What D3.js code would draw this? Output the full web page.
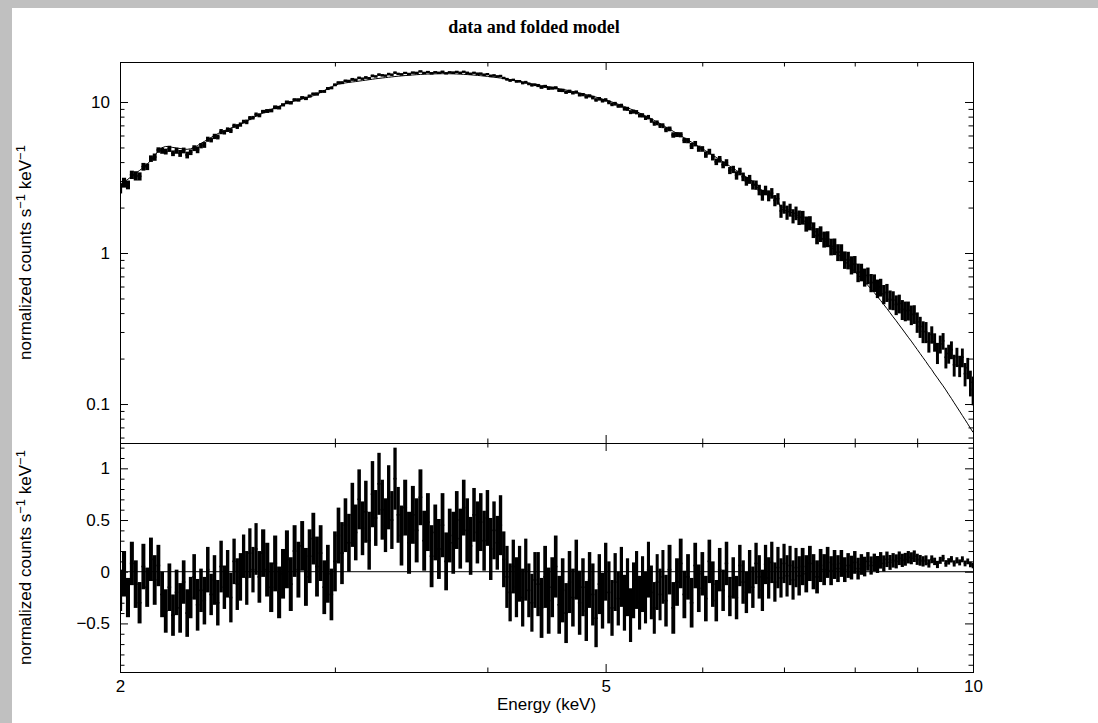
<!DOCTYPE html>
<html><head><meta charset="utf-8">
<script src="https://cdn.jsdelivr.net/npm/d3@7"></script>
<style>
html,body{margin:0;padding:0;background:#fff;}
svg{display:block;}
</style></head><body>
<svg id="chart" width="1098" height="723"></svg>
<script>
// ---------------- DATA ----------------
const energies = [
 2.000,2.015,2.030,2.045,2.060,2.075,2.090,2.105,2.120,2.135,2.150,2.165,2.180,2.195,2.210,2.225,2.240,2.255,2.270,2.285,
 2.300,2.315,2.330,2.345,2.360,2.375,2.390,2.405,2.420,2.435,2.450,2.465,2.480,2.495,2.510,2.525,2.540,2.555,2.570,2.585,
 2.60,2.62,2.64,2.66,2.68,2.70,2.72,2.74,2.76,2.78,2.80,2.82,2.84,2.86,2.88,2.90,2.92,2.94,2.96,2.98,
 3.00,3.02,3.04,3.06,3.08,3.10,3.12,3.14,3.16,3.18,3.20,3.22,3.24,3.26,3.28,3.30,3.32,3.34,3.36,3.38,
 3.400,3.425,3.450,3.475,3.500,3.525,3.550,3.575,3.600,3.625,3.650,3.675,3.700,3.725,3.750,3.775,3.800,3.825,3.850,3.875,
 3.900,3.925,3.950,3.975,4.000,4.025,4.050,4.075,4.100,4.125,4.150,4.175,4.200,4.225,4.250,4.275,4.300,4.325,4.350,4.375,
 4.40,4.43,4.46,4.49,4.52,4.55,4.58,4.61,4.64,4.67,4.70,4.73,4.76,4.79,4.82,4.85,4.88,4.91,4.94,4.97,
 5.00,5.03,5.06,5.09,5.12,5.15,5.18,5.21,5.24,5.27,5.30,5.33,5.36,5.39,5.42,5.45,5.48,5.51,5.54,5.57,
 5.60,5.64,5.68,5.72,5.76,5.80,5.84,5.88,5.92,5.96,6.00,6.04,6.08,6.12,6.16,6.20,6.24,6.28,6.32,6.36,
 6.40,6.44,6.48,6.52,6.56,6.60,6.64,6.68,6.72,6.76,6.80,6.84,6.88,6.92,6.96,7.00,7.04,7.08,7.12,7.16,
 7.20,7.25,7.30,7.35,7.40,7.45,7.50,7.55,7.60,7.65,7.70,7.75,7.80,7.85,7.90,7.95,8.00,8.05,8.10,8.15,
 8.20,8.25,8.30,8.35,8.40,8.45,8.50,8.55,8.60,8.65,8.70,8.75,8.80,8.85,8.90,8.95,9.00,9.05,9.10,9.15,
 9.20,9.25,9.30,9.35,9.40,9.45,9.50,9.55,9.60,9.65,9.70,9.75,9.80,9.85,9.90,9.95,10.00
];
// folded model, normalized counts s^-1 keV^-1
const modelValues = [
 2.86,2.95,3.08,3.22,3.37,3.52,3.68,3.88,4.10,4.40,4.75,4.98,5.08,5.05,5.00,4.96,4.92,4.88,4.86,4.90,
 5.00,5.15,5.32,5.48,5.65,5.82,6.00,6.17,6.32,6.45,6.58,6.72,6.86,7.00,7.14,7.27,7.45,7.65,7.85,8.05,
 8.22,8.46,8.70,8.93,9.15,9.37,9.60,9.83,10.00,10.15,10.30,10.45,10.62,10.80,11.00,11.25,11.55,11.90,12.30,12.60,
 12.90,13.10,13.25,13.38,13.48,13.57,13.65,13.75,13.85,13.95,14.05,14.15,14.25,14.33,14.42,14.50,14.58,14.66,14.74,14.82,
 14.88,14.96,15.03,15.10,15.16,15.22,15.27,15.31,15.34,15.36,15.38,15.39,15.39,15.38,15.36,15.33,15.29,15.24,15.19,15.13,
 15.07,15.00,14.93,14.85,14.77,14.68,14.59,14.50,14.40,14.30,14.19,14.08,13.97,13.85,13.73,13.61,13.48,13.35,13.22,13.09,
 12.98,12.86,12.74,12.62,12.50,12.37,12.25,12.12,12.00,11.87,11.74,11.61,11.48,11.34,11.20,11.06,10.92,10.77,10.62,10.47,
 10.32,10.16,10.00,9.84,9.67,9.50,9.33,9.16,8.99,8.82,8.64,8.46,8.28,8.10,7.92,7.74,7.56,7.38,7.20,7.02,
 6.84,6.62,6.40,6.19,5.99,5.79,5.60,5.42,5.24,5.07,4.91,4.75,4.59,4.44,4.30,4.16,4.02,3.89,3.76,3.64,
 3.52,3.41,3.30,3.19,3.08,2.98,2.74,2.67,2.60,2.53,2.46,2.40,2.33,2.25,1.96,1.93,1.90,1.87,1.84,1.80,
 1.762,1.671,1.585,1.503,1.426,1.352,1.282,1.216,1.153,1.094,1.038,0.984,0.933,0.885,0.839,0.796,0.755,0.716,0.679,0.644,
 0.611,0.578,0.547,0.515,0.485,0.456,0.429,0.403,0.378,0.356,0.334,0.314,0.295,0.277,0.261,0.245,0.230,0.216,0.203,0.191,
 0.179,0.169,0.158,0.149,0.140,0.132,0.124,0.116,0.109,0.102,0.0957,0.0897,0.0841,0.0789,0.0740,0.0693,0.0650
];
// residuals (data - model)
const residuals = [
 -0.18,-0.02,-0.25,0.08,-0.12,-0.30,0.05,-0.15,0.12,-0.08,0.06,-0.22,-0.38,-0.15,-0.42,-0.20,-0.35,-0.10,-0.40,-0.25,
 -0.05,-0.32,-0.18,-0.28,0.02,-0.22,-0.08,-0.30,0.05,-0.15,-0.02,-0.25,0.10,-0.12,-0.05,0.15,-0.06,0.18,0.02,0.22,
 -0.05,0.18,0.02,-0.15,0.08,-0.20,-0.02,0.12,-0.12,0.20,0.02,0.25,-0.05,0.15,0.32,0.05,0.18,-0.15,-0.02,-0.22,
 0.10,0.35,0.18,0.45,0.28,0.55,0.38,0.70,0.42,0.58,0.30,0.75,0.52,0.85,0.60,0.45,0.72,0.50,0.90,0.55,
 0.35,0.62,0.28,0.55,0.40,0.72,0.30,0.48,0.15,0.38,0.22,0.45,0.10,0.35,0.28,0.50,0.32,0.62,0.40,0.25,
 0.55,0.38,0.48,0.30,0.52,0.22,0.40,0.28,0.45,0.12,-0.05,-0.20,0.05,-0.15,-0.02,-0.25,0.02,-0.18,-0.30,-0.08,
 -0.12,-0.35,-0.05,-0.28,-0.15,0.05,-0.32,-0.18,-0.40,-0.10,-0.25,0.02,-0.30,-0.15,-0.38,-0.08,-0.22,-0.45,-0.12,-0.28,
 0.00,-0.20,-0.35,-0.10,-0.26,-0.05,-0.30,-0.15,-0.42,-0.18,-0.08,-0.30,-0.12,-0.25,0.02,-0.20,-0.35,-0.10,-0.22,-0.05,
 -0.28,0.02,-0.35,-0.10,0.08,-0.22,-0.05,-0.30,0.06,-0.16,-0.02,-0.26,0.10,-0.12,-0.28,0.02,-0.18,0.08,-0.24,-0.06,
 -0.25,0.06,-0.10,-0.20,0.00,-0.15,0.08,-0.05,-0.18,0.07,-0.06,0.09,-0.10,0.04,-0.06,0.08,-0.04,0.06,-0.08,0.04,
 -0.04,0.05,-0.02,0.08,0.00,-0.05,0.06,0.02,0.09,0.01,0.07,0.03,0.08,0.02,0.06,0.04,0.09,0.03,0.07,0.05,
 0.10,0.06,0.09,0.07,0.11,0.08,0.12,0.09,0.11,0.10,0.13,0.11,0.12,0.14,0.13,0.15,0.12,0.11,0.10,0.11,
 0.08,0.12,0.10,0.07,0.11,0.13,0.08,0.10,0.12,0.08,0.11,0.09,0.12,0.08,0.10,0.07,0.06
];
// 1-sigma errors
const errors = [
 0.20,0.22,0.19,0.21,0.23,0.20,0.22,0.19,0.21,0.24,0.20,0.22,0.21,0.23,0.20,0.22,0.24,0.21,0.23,0.20,
 0.22,0.25,0.21,0.23,0.22,0.20,0.24,0.22,0.25,0.21,0.23,0.24,0.22,0.25,0.23,0.21,0.26,0.24,0.22,0.25,
 0.25,0.23,0.26,0.24,0.27,0.25,0.24,0.28,0.26,0.25,0.27,0.24,0.28,0.26,0.25,0.29,0.27,0.26,0.28,0.25,
 0.29,0.27,0.30,0.26,0.28,0.31,0.27,0.29,0.26,0.30,0.28,0.32,0.27,0.30,0.29,0.26,0.31,0.28,0.30,0.27,
 0.29,0.27,0.30,0.28,0.31,0.27,0.29,0.28,0.30,0.27,0.29,0.31,0.28,0.26,0.30,0.28,0.29,0.27,0.31,0.28,
 0.26,0.30,0.28,0.29,0.27,0.30,0.28,0.26,0.29,0.27,0.30,0.28,0.26,0.29,0.27,0.28,0.30,0.26,0.28,0.27,
 0.31,0.29,0.30,0.32,0.29,0.30,0.28,0.31,0.29,0.30,0.28,0.29,0.31,0.28,0.29,0.27,0.30,0.28,0.29,0.27,
 0.28,0.30,0.27,0.28,0.26,0.29,0.27,0.28,0.26,0.27,0.28,0.26,0.27,0.25,0.27,0.26,0.25,0.27,0.25,0.26,
 0.25,0.24,0.25,0.23,0.24,0.23,0.22,0.24,0.22,0.23,0.21,0.22,0.21,0.22,0.20,0.21,0.20,0.21,0.19,0.20,
 0.21,0.20,0.21,0.20,0.21,0.20,0.20,0.21,0.20,0.19,0.20,0.20,0.19,0.20,0.19,0.19,0.20,0.19,0.19,0.19,
 0.19,0.18,0.18,0.17,0.17,0.16,0.16,0.15,0.15,0.14,0.14,0.13,0.13,0.12,0.12,0.115,0.11,0.105,0.10,0.095,
 0.09,0.088,0.085,0.082,0.08,0.078,0.075,0.072,0.07,0.068,0.066,0.064,0.062,0.06,0.058,0.056,0.054,0.052,0.05,0.048,
 0.04,0.038,0.036,0.035,0.034,0.033,0.032,0.031,0.031,0.03,0.03,0.029,0.029,0.028,0.028,0.027,0.027
];
const xMajorTicks = [2, 5, 10];
const xMajorLabels = ["2", "5", "10"];
const xMinorTicks = [3, 4, 6, 7, 8, 9];
const topMajorTicks = [0.1, 1, 10];
const topMajorLabels = ["0.1", "1", "10"];
const topMinorTicks = [0.06,0.07,0.08,0.09,0.2,0.3,0.4,0.5,0.6,0.7,0.8,0.9,2,3,4,5,6,7,8,9];
const botMajorTicks = [-0.5, 0, 0.5, 1];
const botMajorLabels = ["\u22120.5", "0", "0.5", "1"];
const botMinorTicks = [-0.9,-0.8,-0.7,-0.6,-0.4,-0.3,-0.2,-0.1,0.1,0.2,0.3,0.4,0.6,0.7,0.8,0.9,1.1,1.2];
const titleText = "data and folded model";
const xAxisTitle = "Energy (keV)";

// ---------------- LAYOUT ----------------
const W = 1098, H = 723;
const L = 120, R = 973, T = 62, M = 443, B = 672;
const FONT = "'Liberation Sans', Arial, Helvetica, sans-serif";

const svg = d3.select("#chart");
svg.append("rect").attr("width", W).attr("height", H).attr("fill", "#c0c0c0");
svg.append("rect").attr("x", 12).attr("y", 8).attr("width", W - 12).attr("height", H - 8).attr("fill", "#fff");

const x = d3.scaleLog().domain([2, 10]).range([L, R]);
const yTop = d3.scaleLog().domain([0.0552, 18.4]).range([M, T]);
const yBot = d3.scaleLinear().domain([-0.970, 1.245]).range([B, M]);

const pts = energies.map((e, i) => {
  const n = energies.length;
  const lo = i > 0 ? (energies[i - 1] + e) / 2 : e - (energies[1] - energies[0]) / 2;
  const hi = i < n - 1 ? (energies[i + 1] + e) / 2 : e + (e - energies[n - 2]) / 2;
  return { e, lo, hi, m: modelValues[i], r: residuals[i], s: errors[i], d: modelValues[i] + residuals[i] };
});

const defs = svg.append("defs");
defs.append("clipPath").attr("id", "clipTop").append("rect")
  .attr("x", L).attr("y", T).attr("width", R - L).attr("height", M - T);
defs.append("clipPath").attr("id", "clipBot").append("rect")
  .attr("x", L).attr("y", M).attr("width", R - L).attr("height", B - M);

// error bars, drawn one per bin, as wide as the bin on screen
function drawBars(g, yScale, valFn) {
  g.selectAll("rect.bar").data(pts).join("rect").attr("class", "bar")
    .attr("x", d => x(d.lo))
    .attr("width", d => x(d.hi) - x(d.lo) + 0.15)
    .attr("y", d => yScale(valFn(d) + d.s))
    .attr("height", d => Math.max(1.5, yScale(valFn(d) - d.s) - yScale(valFn(d) + d.s)))
    .attr("fill", "#000");
  g.selectAll("line.bin").data(pts).join("line").attr("class", "bin")
    .attr("x1", d => x(d.lo)).attr("x2", d => x(d.hi))
    .attr("y1", d => yScale(valFn(d))).attr("y2", d => yScale(valFn(d)))
    .attr("stroke", "#000").attr("stroke-width", 1.6);
}

const gTop = svg.append("g").attr("clip-path", "url(#clipTop)");
drawBars(gTop, yTop, d => d.d);
gTop.append("path").datum(pts)
  .attr("d", d3.line().x(d => x(d.e)).y(d => yTop(d.m)))
  .attr("fill", "none").attr("stroke", "#000").attr("stroke-width", 1);

const gBot = svg.append("g").attr("clip-path", "url(#clipBot)");
drawBars(gBot, yBot, d => d.r);
gBot.append("line").attr("x1", L).attr("x2", R).attr("y1", yBot(0)).attr("y2", yBot(0))
  .attr("stroke", "#000").attr("stroke-width", 1);

// ---------------- AXES ----------------
function addAxis(axis, tx, ty) {
  const g = svg.append("g").attr("transform", `translate(${tx},${ty})`).call(axis);
  g.select(".domain").remove();
  g.attr("font-size", 17).attr("font-family", FONT);
  g.selectAll("line").attr("stroke", "#000");
  g.selectAll("text").attr("fill", "#000");
  return g;
}
const MAJ = 8, MIN = 4.5;
addAxis(d3.axisBottom(x).tickValues(xMajorTicks).tickSize(-MAJ).tickPadding(8)
  .tickFormat((d, i) => xMajorLabels[i]), 0, B);
addAxis(d3.axisBottom(x).tickValues(xMinorTicks).tickSize(-MIN).tickFormat(""), 0, B);
[M, T].forEach(yy => {
  addAxis(d3.axisTop(x).tickValues(xMajorTicks).tickSize(-MAJ).tickFormat(""), 0, yy);
  addAxis(d3.axisTop(x).tickValues(xMinorTicks).tickSize(-MIN).tickFormat(""), 0, yy);
});
addAxis(d3.axisBottom(x).tickValues(xMajorTicks).tickSize(-MAJ).tickFormat(""), 0, M);
addAxis(d3.axisBottom(x).tickValues(xMinorTicks).tickSize(-MIN).tickFormat(""), 0, M);

addAxis(d3.axisLeft(yTop).tickValues(topMajorTicks).tickSize(-MAJ).tickPadding(10)
  .tickFormat((d, i) => topMajorLabels[i]), L, 0);
addAxis(d3.axisLeft(yTop).tickValues(topMinorTicks).tickSize(-MIN).tickFormat(""), L, 0);
addAxis(d3.axisRight(yTop).tickValues(topMajorTicks).tickSize(-MAJ).tickFormat(""), R, 0);
addAxis(d3.axisRight(yTop).tickValues(topMinorTicks).tickSize(-MIN).tickFormat(""), R, 0);
addAxis(d3.axisLeft(yBot).tickValues(botMajorTicks).tickSize(-MAJ).tickPadding(10)
  .tickFormat((d, i) => botMajorLabels[i]), L, 0);
addAxis(d3.axisLeft(yBot).tickValues(botMinorTicks).tickSize(-MIN).tickFormat(""), L, 0);
addAxis(d3.axisRight(yBot).tickValues(botMajorTicks).tickSize(-MAJ).tickFormat(""), R, 0);
addAxis(d3.axisRight(yBot).tickValues(botMinorTicks).tickSize(-MIN).tickFormat(""), R, 0);

svg.append("rect").attr("x", L + 0.5).attr("y", T + 0.5).attr("width", R - L).attr("height", B - T)
  .attr("fill", "none").attr("stroke", "#000").attr("stroke-width", 1);
svg.append("line").attr("x1", L).attr("x2", R).attr("y1", M + 0.5).attr("y2", M + 0.5)
  .attr("stroke", "#000").attr("stroke-width", 1);

// ---------------- TEXT ----------------
svg.append("text").attr("x", 534).attr("y", 33).attr("text-anchor", "middle")
  .attr("font-family", "'Liberation Serif', 'Times New Roman', serif").attr("font-weight", "bold")
  .attr("font-size", 18).attr("fill", "#000").text(titleText);

svg.append("text").attr("x", (L + R) / 2).attr("y", 710).attr("text-anchor", "middle")
  .attr("font-family", FONT).attr("font-size", 17).attr("fill", "#000").text(xAxisTitle);

function yLabel(cy) {
  const t = svg.append("text").attr("transform", `translate(31,${cy}) rotate(-90)`)
    .attr("text-anchor", "middle").attr("font-family", FONT).attr("font-size", 17).attr("fill", "#000");
  t.append("tspan").text("normalized counts s");
  t.append("tspan").attr("dy", -6).attr("font-size", 13).text("\u22121");
  t.append("tspan").attr("dy", 6).text(" keV");
  t.append("tspan").attr("dy", -6).attr("font-size", 13).text("\u22121");
}
yLabel((T + M) / 2);
yLabel((M + B) / 2);
</script>
</body></html>
